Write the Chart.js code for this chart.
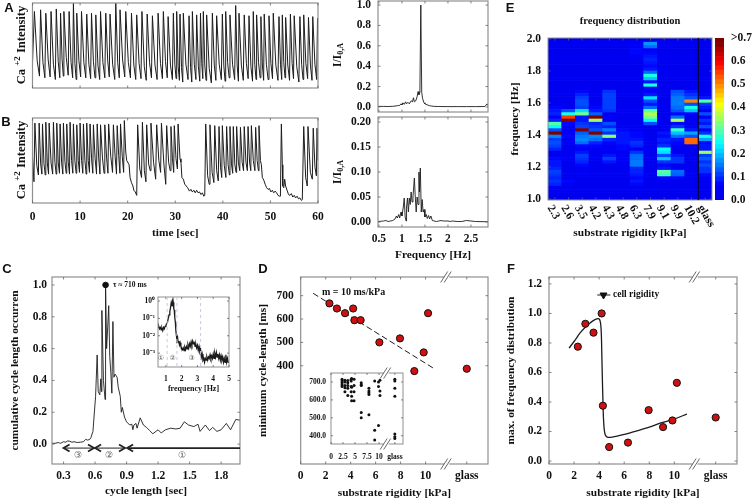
<!DOCTYPE html>
<html><head><meta charset="utf-8">
<style>html,body{margin:0;padding:0;background:#fff;width:752px;height:500px;overflow:hidden}canvas{position:absolute;left:0;top:0}</style>
<script src="https://cdn.jsdelivr.net/npm/chart.js@4"></script>
</head><body>
<script>
// ---------- panel A trace ----------
const aPeakTimes=[.4,1.7,2.8,3.9,5,5.9,6.6,7.7,8.6,9.3,10.3,11.4,12.4,13.3,14.3,15.4,16.3,17.5,18.4,19.6,20.8,21.9,23,24.1,25.2,26.4,27.5,28.5,29.6,30.3,31,31.7,32.9,33.6,34.5,35.3,35.9,36.6,37.8,38.7,39.9,40.6,41.5,42.7,43.4,44.5,45.5,46.4,47.1,48,48.7,49.7,50.6,51.8,52.5,53.2,54.2,55,56.2,57,58,58.9,59.9];
const aPeakV=[.9,.92,.88,.9,.93,.88,.9,.9,1,.88,.9,.87,.88,.86,.9,.88,.87,1,.92,.9,.88,.86,.9,.87,.85,.88,.9,.84,.88,.9,.87,.88,.85,.9,.86,.88,.9,.86,.88,.85,.87,.9,.86,.97,.88,.86,.85,.9,.86,.84,.87,.85,.88,.84,.86,.83,.87,.85,.84,.86,.83,.84,.82];
const aShoulderV=[.32,.3,.33,.28,.31,.34,.36,.3,.29,.32,.3,.28,.31,.27,.3,.32,.28,.3,.33,.3,.27,.29,.25,.3,.27,.29,.31,.27,.28,.25,.24,.28,.24,.28,.25,.29,.26,.23,.27,.28,.26,.3,.28,.26,.27,.29,.25,.28,.3,.27,.28,.29,.27,.28,.3,.27,.29,.25,.28,.29,.27,.28,.26];
const aTroughV=[.14,.12,.13,.1,.12,.14,.15,.12,.1,.13,.12,.11,.12,.1,.12,.13,.1,.12,.13,.12,.1,.11,.09,.12,.1,.11,.12,.1,.11,.09,.07,.1,.07,.1,.08,.11,.09,.06,.09,.1,.08,.12,.1,.08,.09,.11,.08,.1,.12,.09,.1,.11,.09,.1,.12,.09,.11,.07,.1,.11,.09,.1,.08];
// ---------- panel B trace ----------
const bPeakTimes=[.5,1.4,2.1,2.8,3.5,4.4,5.1,5.8,6.5,7.2,7.9,8.6,9.3,10,10.7,11.4,12.1,12.8,13.6,14.3,15.2,16,17,17.8,18.5,19.3,22.1,23.1,24,24.9,26.1,27.1,28.2,29.1,29.8,30.6,36.4,37.3,38.3,39.2,39.9,40.8,41.5,42.2,42.9,43.7,44.5,45.3,46,46.9,47.6,52.3,57,57.9,59,59.8];
const bPeakV=[.94,.94,.93,.95,.94,.95,.94,.93,.94,.93,.95,.93,.92,.94,.93,.94,.93,.92,.93,.92,.92,.93,.92,.91,.93,.97,.92,.95,.92,.94,.92,.94,.91,.9,.91,.93,.93,.92,.91,.9,.91,.9,.9,.9,.9,.89,.9,.9,.91,.89,.91,.93,.9,.9,.88,.88];
const bShoulderV=[.44,.46,.46,.47,.47,.48,.47,.48,.49,.48,.5,.49,.5,.5,.5,.5,.52,.52,.53,.53,.54,.55,.55,.56,.55,.5,.4,.38,.46,.48,.5,.47,.48,.52,.52,.52,.32,.36,.38,.42,.44,.45,.46,.46,.48,.48,.48,.48,.5,.5,.5,.5,.3,.36,.42,.44];
const bTroughV=[.33,.34,.33,.34,.34,.34,.35,.34,.35,.34,.35,.35,.36,.35,.34,.36,.35,.34,.34,.35,.35,.36,.34,.35,.36,.3,.3,.25,.38,.28,.36,.22,.38,.36,.4,.4,.22,.24,.26,.3,.3,.33,.35,.36,.38,.38,.38,.38,.38,.38,.4,.2,.2,.28,.32,.36];
const bQuiet=[[0,.55],[.3,.25],[19.6,.6],[19.8,.5],[20.3,.45],[20.5,.3],[20.8,.24],[21.1,.2],[21.3,.15],[21.6,.13],[21.9,.09],[31,.52],[31.2,.48],[31.4,.3],[31.7,.28],[32,.22],[32.3,.2],[32.6,.18],[33,.14],[33.3,.16],[33.6,.13],[33.9,.15],[34.2,.12],[34.5,.15],[34.8,.12],[35.1,.13],[35.4,.1],[35.7,.12],[36,.08],[36.2,.09],[47.9,.5],[48.1,.45],[48.3,.3],[48.6,.27],[48.9,.22],[49.2,.18],[49.5,.16],[49.8,.17],[50.1,.13],[50.4,.15],[50.7,.12],[51,.14],[51.3,.12],[51.6,.09],[51.9,.08],[52.1,.08],[52.5,.45],[52.6,.2],[52.8,.18],[53,.28],[53.2,.2],[53.5,.15],[53.8,.1],[54.1,.09],[54.4,.11],[54.7,.07],[55,.09],[55.3,.06],[55.6,.08],[55.9,.05],[56.2,.06],[56.5,.03],[56.7,.04],[60,.5]];
// ---------- spectra ----------
const specAF=[.48,.6,.7,.8,.85,.9,.95,.98,1,1.02,1.05,1.08,1.1,1.13,1.16,1.2,1.23,1.25,1.27,1.3,1.33,1.35,1.37,1.39,1.41,1.43,1.45,1.48,1.5,1.55,1.6,1.65,1.7,1.8,2,2.2,2.4,2.6,2.8,2.85,2.87];
const specAV=[.005,.005,.004,.006,.008,.012,.015,.03,.02,.04,.025,.05,.03,.045,.03,.06,.05,.09,.05,.06,.1,.15,.12,.14,1,.14,.08,.04,.03,.02,.012,.008,.005,.004,.003,.003,.003,.003,.004,.03,.012];
const specBF=[.48,.55,.6,.65,.7,.75,.8,.85,.88,.9,.93,.95,.98,1,1.03,1.05,1.07,1.09,1.1,1.12,1.14,1.16,1.18,1.2,1.22,1.24,1.27,1.29,1.31,1.33,1.35,1.37,1.38,1.4,1.42,1.44,1.46,1.48,1.5,1.53,1.55,1.58,1.6,1.63,1.66,1.7,1.75,1.8,1.85,1.9,2,2.05,2.1,2.2,2.3,2.4,2.5,2.6,2.87];
const specBV=[.001,.0015,.002,.003,.001,.002,.003,.006,.012,.008,.015,.008,.02,.012,.03,.048,.01,.002,.03,.048,.02,.048,.035,.06,.04,.05,.088,.05,.02,.05,.035,.1,.06,.108,.02,.045,.02,.025,.01,.015,.007,.013,.006,.012,.003,.002,.001,.002,.003,.002,.002,.001,.002,.001,.001,.003,.002,.001,.0005];
// ---------- panel C ----------
const cycleX=[.19,.22,.25,.27,.3,.32,.34,.36,.38,.4,.43,.46,.49,.51,.53,.55,.56,.58,.59,.605,.62,.63,.645,.655,.66,.665,.68,.695,.7,.71,.72,.73,.74,.75,.76,.77,.78,.79,.81,.82,.84,.85,.86,.88,.9,.93,.95,.96,.97,.99,1,1.03,1.06,1.09,1.12,1.15,1.18,1.2,1.23,1.27,1.32,1.37,1.41,1.45,1.49,1.54,1.58,1.6,1.65,1.69,1.72,1.76,1.8,1.85,1.89,1.94,1.98];
const cycleY=[.005,.005,.01,.005,.015,.012,.02,.018,.012,.015,.01,.012,.015,.03,.025,.03,.04,.08,.17,.3,.56,.33,.31,.41,.33,.84,.4,.28,1,.6,.73,.87,.55,.45,.32,.77,.42,.44,.42,.36,.3,.2,.23,.17,.14,.12,.125,.09,.12,.13,.1,.165,.12,.105,.085,.065,.08,.09,.07,.09,.1,.095,.1,.14,.12,.11,.125,.08,.12,.085,.105,.08,.09,.13,.09,.155,.15];
const tauX=[.7], tauY=[1];
const regionEdges=[[.3,.59],[.6,.885],[.905,1.98]];
const insetF=[.5,.55,.6,.65,.7,.75,.8,.85,.9,.95,1,1.05,1.1,1.15,1.2,1.25,1.3,1.33,1.36,1.4,1.43,1.46,1.5,1.53,1.56,1.6,1.63,1.66,1.7,1.74,1.78,1.82,1.86,1.9,1.95,2,2.05,2.1,2.15,2.2,2.25,2.3,2.35,2.4,2.45,2.5,2.55,2.6,2.65,2.7,2.75,2.8,2.85,2.9,2.95,3,3.05,3.1,3.15,3.2,3.25,3.3,3.35,3.4,3.45,3.5,3.55,3.6,3.65,3.7,3.75,3.8,3.85,3.9,3.95,4,4.05,4.1,4.15,4.2,4.25,4.3,4.35,4.4,4.45,4.5,4.55,4.6,4.65,4.7,4.75,4.8,4.85,4.9,4.95,5];
const insetV=[.03,.035,.025,.03,.022,.028,.02,.03,.025,.035,.04,.05,.06,.1,.16,.25,.45,.7,.5,.9,.5,.85,.35,.3,.12,.06,.02,.012,.006,.008,.004,.005,.003,.004,.0025,.002,.0016,.002,.0014,.0022,.0016,.0024,.0018,.003,.002,.0035,.0025,.0045,.003,.005,.0035,.004,.0025,.0032,.002,.0028,.0015,.0024,.0012,.0016,.0006,.0009,.0004,.0005,.0003,.0005,.0004,.0006,.0004,.0006,.0005,.0008,.0005,.0007,.0005,.0009,.0005,.001,.0006,.0011,.0006,.0009,.0005,.0008,.0004,.0007,.0004,.0006,.0003,.0005,.0003,.0008,.0003,.0005,.0003,.0003];
const insetMarks=[1.08,1.7,3.2];
// ---------- panels D / F ----------
const rigidity=[2.3,2.9,3.55,4.2,4.3,4.8,6.3,7.95,9.1,9.85,10.2,13.3];
const minCycle=[667,645,625,645,595,595,500,517,377,457,625,387];
const maxFreq=[.775,.93,.87,1,.375,.095,.125,.345,.23,.275,.53,.295];
const fitX=[1,10.7], fitY=[710,387];
const curveX=[1.6,2,2.5,3,3.5,3.9,4.03,4.12,4.18,4.22,4.26,4.3,4.34,4.4,4.48,4.6,4.8,5.5,6,7,8,9,10,11];
const curveY=[.765,.81,.87,.915,.95,.965,.96,.93,.85,.7,.55,.42,.3,.22,.18,.165,.16,.17,.18,.205,.23,.26,.285,.318];
const cellX=[3.85,4.9], cellY=[1.125,1.125], cellMarkX=[4.35], cellMarkY=[1.125];
const allX=[2.3,2.3,2.3,2.3,2.3,2.9,2.9,2.9,2.9,2.9,3.5,3.5,3.5,3.5,3.5,4.2,4.2,4.2,4.2,4.3,4.3,4.3,4.3,4.8,4.8,4.8,4.8,6.3,6.3,6.3,6.3,6.3,7.9,7.9,7.9,7.9,7.9,9.1,9.1,9.1,9.9,9.9,9.9,10.2,10.2,10.2,13.3,13.3,13.3,13.3,13.3,13.3,13.3];
const allY=[715,705,695,685,675,710,700,680,668,645,708,695,680,665,625,715,705,675,645,720,670,620,595,715,680,645,595,695,685,680,530,500,665,650,640,630,517,705,430,377,700,675,457,710,650,625,715,705,665,620,410,395,385];
// ---------- panel E ----------
const heatCats=['2.3','2.6','3.5','4.2','4.3','4.8','6.3','7.9','9.1','9.9','10.2','glass'];
const heat2_3=[4,3,4,6,9,10,9,10,11,9,8,8,7,5,5,9,11,12,11,16,70,12,24,30,9,6,9,8,7,4,4,3,3,3,2,2,2,3,2,2,2,2,2,2,2,2,1,1,1,1];
const heat2_6=[4,3,5,4,6,7,4,4,5,4,5,5,6,5,4,4,5,6,5,7,6,6,6,7,70,55,26,12,5,4,3,4,3,3,2,2,2,2,2,2,1,2,1,2,1,1,1,1,1,1];
const heat3_5=[3,3,4,5,3,5,4,6,6,5,7,9,10,11,8,6,7,14,16,15,13,70,11,10,8,8,32,22,11,12,12,11,9,7,4,3,3,2,2,2,2,2,2,2,1,1,1,1,1,1];
const heat4_2=[2,3,3,3,4,3,2,3,2,3,4,4,4,3,5,6,7,9,14,16,70,12,10,9,35,70,13,8,7,6,5,4,3,3,2,2,2,2,2,2,2,2,2,2,1,1,1,1,1,1];
const heat4_3=[4,4,3,3,3,2,3,3,4,3,5,8,11,8,5,6,6,7,9,34,10,15,9,12,6,6,5,10,11,11,11,11,11,10,5,3,2,2,2,2,2,2,2,2,2,1,1,1,1,1];
const heat4_8=[2,3,3,4,5,4,4,5,5,5,6,6,6,6,5,7,7,8,8,8,8,7,5,5,4,5,6,5,5,4,4,4,3,3,3,3,2,2,2,2,2,2,2,2,2,2,1,1,1,1];
const heat6_3=[3,4,4,5,7,8,7,8,9,9,15,15,14,14,10,6,9,10,8,7,7,6,5,5,5,5,4,5,4,4,4,4,5,4,4,3,3,3,4,4,5,4,4,5,6,7,7,6,6,5];
const heat7_9=[4,4,3,3,4,3,3,2,2,3,3,3,3,3,3,3,3,2,2,3,3,3,4,12,24,33,36,30,14,8,12,22,8,6,7,26,8,20,26,14,8,7,8,9,8,7,6,14,17,5];
const heat9_1=[3,4,4,5,5,6,7,28,30,8,7,10,20,12,22,24,10,8,9,7,8,5,4,4,3,3,3,3,3,3,3,3,2,2,2,2,2,2,2,2,2,2,2,2,1,1,1,1,1,1];
const heat9_9=[2,3,3,4,4,5,7,13,14,6,5,10,10,8,4,5,6,7,8,14,20,28,10,7,36,14,7,12,14,15,15,15,13,12,4,3,3,2,2,2,2,2,2,2,1,1,1,1,1,1];
const heat10_2=[2,2,3,3,3,3,3,3,3,3,4,3,3,3,4,3,4,52,52,12,18,8,6,5,5,5,7,20,26,12,50,12,10,8,5,3,3,2,2,2,2,2,2,2,1,1,1,1,1,1];
const heatGlass=[2,3,4,4,6,5,6,7,10,10,12,10,13,11,35,8,8,7,18,26,10,6,12,8,10,6,12,5,8,10,30,8,6,4,3,3,3,3,3,2,2,2,2,2,1,1,1,1,1,1];
const heatColumns=[heat2_3,heat2_6,heat3_5,heat4_2,heat4_3,heat4_8,heat6_3,heat7_9,heat9_1,heat9_9,heat10_2,heatGlass];
const colorTicks=[0,.1,.2,.3,.4,.5,.6,.7];
const rigTicks=[0,2,4,6,8,10,13.3], rigLabels=['0','2','4','6','8','10','glass'];

// ---------- helpers ----------
const SERIF='"Liberation Serif", serif';
const INK='#111';
const serif=(s)=>({family:SERIF,size:s,weight:'bold'});
function T(ctx,text,x,y,o={}){ctx.save();ctx.font=o.font||`bold ${o.size||11}px ${SERIF}`;ctx.fillStyle=o.color||INK;ctx.textAlign=o.align||'left';ctx.textBaseline=o.base||'middle';ctx.translate(x,y);if(o.rot)ctx.rotate(o.rot);ctx.fillText(text,0,0);ctx.restore();}
function rich(ctx,x,y,runs){ctx.save();ctx.translate(x,y);ctx.rotate(-Math.PI/2);ctx.fillStyle=INK;ctx.textBaseline='middle';ctx.textAlign='left';let w=0;runs.forEach(r=>{ctx.font=`bold ${r[1]}px ${SERIF}`;w+=ctx.measureText(r[0]).width});let p=-w/2;runs.forEach(r=>{ctx.font=`bold ${r[1]}px ${SERIF}`;ctx.fillText(r[0],p,r[2]);p+=ctx.measureText(r[0]).width});ctx.restore();}
const letter=(ctx,t,x,y)=>T(ctx,t,x,y,{font:'bold 13px "Liberation Sans", sans-serif',align:'center'});
const xy=(xs,ys)=>xs.map((x,i)=>({x,y:ys[i]}));
function saw(times,peaks,shoulders,troughs){const out=[];times.forEach((t,i)=>{out.push({x:t,y:peaks[i]});const g=(times[i+1]||t+.8)-t;if(g<1.6){out.push({x:t+.45*g,y:shoulders[i]});out.push({x:t+.82*g,y:troughs[i]});}});return out;}

const framePlugin={id:'frame',
 beforeDatasetsDraw(c){const o=c.options.plugins.frame;if(o&&o.bg){const a=c.chartArea,x=c.ctx;x.save();x.fillStyle=o.bg;x.fillRect(a.left,a.top,a.right-a.left,a.bottom-a.top);x.restore();}},
 afterDatasetsDraw(c){const o=c.options.plugins.frame;if(!o)return;const a=c.chartArea,x=c.ctx;x.save();
  if(o.box!==false){x.strokeStyle='#8f8f8f';x.lineWidth=o.lw||1.2;x.strokeRect(a.left,a.top,a.right-a.left,a.bottom-a.top);
  x.strokeStyle='#666';x.lineWidth=.8;const L=o.tick||2.5;
  c.scales.x.ticks.forEach((t,i)=>{const p=c.scales.x.getPixelForTick(i);x.beginPath();x.moveTo(p,a.bottom);x.lineTo(p,a.bottom-L);x.moveTo(p,a.top);x.lineTo(p,a.top+L);x.stroke();});
  c.scales.y.ticks.forEach((t,i)=>{const p=c.scales.y.getPixelForTick(i);x.beginPath();x.moveTo(a.left,p);x.lineTo(a.left+L,p);x.moveTo(a.right,p);x.lineTo(a.right-L,p);x.stroke();});}
  if(o.breakX!==undefined){const p=c.scales.x.getPixelForValue(o.breakX);[a.top,a.bottom].forEach(y=>{x.fillStyle='#fff';x.fillRect(p-3,y-2,5,4);x.strokeStyle='#444';x.lineWidth=.8;[-3.5,0].forEach(d=>{x.beginPath();x.moveTo(p+d-3,y+5.5);x.lineTo(p+d+4,y-5.5);x.stroke();});});}
  x.restore();}};

function panel(cfg){
 const [l,t,r,b]=cfg.box, size=cfg.font||11.5, tsize=cfg.titleFont||11.4, ysize=cfg.yTitleFont||tsize, lh=tsize*1.2, ylh=ysize*1.2;
 const cv=document.createElement('canvas');cv.width=752;cv.height=500;cv.style.width='752px';cv.style.height='500px';document.body.appendChild(cv);
 const right=!!cfg.y.right, labelled=!!cfg.y.labels;
 const yLeft=right?l:(cfg.yTitle?cfg.yTitleX-ylh/2:(labelled?l-40:l)), yW=right?28:l-yLeft;
 const xH=cfg.xTitle?cfg.xTitleY+lh/2-b:(cfg.x.labels?26:0);
 const zero=s=>{s.paddingLeft=s.paddingRight=s.paddingTop=s.paddingBottom=0;};
 const axis=(ax,isX)=>{const c={type:ax.type||'linear',position:isX?'bottom':(ax.right?'right':'left'),offset:ax.type==='category',
   grid:{display:false,drawTicks:false},border:{display:false},
   ticks:{display:!!ax.labels,autoSkip:false,maxRotation:0,minRotation:0,color:INK,font:serif(ax.font||size),padding:ax.pad===undefined?7:ax.pad,
     callback:(v,i)=>ax.labels?ax.labels[i]:''},
   afterFit:isX?(s=>{s.height=xH;zero(s);}):(s=>{s.width=yW;zero(s);})};
  if(ax.type==='category')c.labels=ax.cats; else {c.min=ax.min;c.max=ax.max;c.afterBuildTicks=s=>{s.ticks=ax.ticks.map(v=>({value:v}));};}
  const title=isX?cfg.xTitle:cfg.yTitle;
  if(title)c.title={display:true,text:title,color:INK,font:serif(isX?tsize:ysize),padding:0};
  return c;};
 const fr=Object.assign({},cfg.frame), deco=fr.deco; delete fr.deco;
 const pl=[framePlugin];
 if(deco)pl.push({id:'deco',afterDraw(c){deco(c,c.ctx);}});
 return new Chart(cv,{type:cfg.type||'scatter',data:{labels:cfg.cats,datasets:cfg.datasets},plugins:pl,options:{
  responsive:false,animation:false,devicePixelRatio:1,events:[],
  layout:{padding:{left:yLeft,top:t,right:right?752-r-28:752-r,bottom:500-(b+xH)}},
  plugins:{legend:{display:false},tooltip:{enabled:false},title:{display:false},frame:fr},
  scales:{x:axis(cfg.x,true),y:axis(cfg.y,false)}}});
}
const line=(data,o={})=>Object.assign({data,showLine:true,pointRadius:0,borderColor:'#1c1c1c',backgroundColor:'#1c1c1c',borderWidth:.9,tension:0},o);
const dots=(data,o={})=>Object.assign({data,showLine:false,pointRadius:3.6,pointBackgroundColor:'#cf1010',pointBorderColor:'#111',pointBorderWidth:1},o);

const timeTicks=[0,10,20,30,40,50,60], timeLabels=['0','10','20','30','40','50','60'];
// ---------- A ----------
panel({box:[32.5,3,318,88],datasets:[line([{x:0,y:.3}].concat(saw(aPeakTimes,aPeakV,aShoulderV,aTroughV)),{borderWidth:1})],
 x:{min:0,max:60,ticks:timeTicks},y:{min:0,max:1,ticks:[]},
 frame:{deco(c,x){letter(x,'A',9,8);rich(x,22,45,[['Ca ',12.5,0],['+2',9,-4],[' Intensity',12.5,0]]);}}});
// ---------- B ----------
const bPts=saw(bPeakTimes,bPeakV,bShoulderV,bTroughV).concat(xy(bQuiet.map(p=>p[0]),bQuiet.map(p=>p[1]))).sort((p,q)=>p.x-q.x);
panel({box:[32.5,118,318,203],datasets:[line(bPts,{borderWidth:1})],xTitle:'time [sec]',xTitleY:233,
 x:{min:0,max:60,ticks:timeTicks,labels:timeLabels},y:{min:0,max:1,ticks:[]},
 frame:{deco(c,x){letter(x,'B',6,122);rich(x,22,160,[['Ca ',12.5,0],['+2',9,-4],[' Intensity',12.5,0]]);}}});
// ---------- spectra ----------
const fTicks=[.5,1,1.5,2,2.5];
panel({box:[378,1,488,112],datasets:[line(xy(specAF,specAV))],
 x:{min:.48,max:2.87,ticks:fTicks},y:{min:-.05,max:1.04,ticks:[0,.2,.4,.6,.8,1],labels:['0.0','0.2','0.4','0.6','0.8','1.0']},
 frame:{deco(c,x){rich(x,338,55,[['I/I',11.5,0],['0,A',8,3]]);}}});
panel({box:[378,117,488,227],datasets:[line(xy(specBF,specBV))],xTitle:'Frequency [Hz]',xTitleY:255,
 x:{min:.48,max:2.87,ticks:fTicks,labels:['0.5','1','1.5','2','2.5'],pad:5},y:{min:-.01,max:.21,ticks:[0,.05,.1,.15,.2],labels:['0.00','0.05','0.10','0.15','0.20']},
 frame:{deco(c,x){rich(x,338,172,[['I/I',11.5,0],['0,A',8,3]]);}}});
// ---------- E heat map ----------
function jet(v){const t=Math.max(.11,Math.min(1,v/.7+.03)),f=k=>Math.round(255*Math.max(0,Math.min(1,1.5-Math.abs(4*t-k))));return `rgb(${f(3)},${f(2)},${f(1)})`;}
const heatRows=[];for(let i=0;i<50;i++){const lo=i===0?.99:1+i*.02,hi=i===49?2.01:1+(i+1)*.02;
 heatRows.push({data:heatColumns.map(()=>[lo,hi]),backgroundColor:heatColumns.map(c=>jet(c[i]/100)),grouped:false,barPercentage:1,categoryPercentage:1,borderWidth:0});}
panel({type:'bar',box:[548,38,712,200],cats:heatCats,datasets:heatRows,xTitle:'substrate rigidity [kPa]',xTitleY:233,yTitle:'frequency [Hz]',yTitleX:515,
 x:{type:'category',cats:heatCats},y:{min:.994,max:2.006,ticks:[1,1.2,1.4,1.6,1.8,2],labels:['1.0','1.2','1.4','1.6','1.8','2.0']},
 frame:{lw:1,deco(c,x){letter(x,'E',510,8);T(x,'frequency distribution',630,21,{size:10.5,align:'center'});
  const s=c.scales.x,a=c.chartArea;heatCats.forEach((n,i)=>T(x,n,s.getPixelForTick(i)-5,206,{size:11.5,rot:Math.PI/3}));
  const p=(s.getPixelForTick(10)+s.getPixelForTick(11))/2;x.save();x.strokeStyle='#0a0a3c';x.lineWidth=1.3;x.beginPath();x.moveTo(p,a.top);x.lineTo(p,a.bottom);x.stroke();x.restore();}}});
// colour bar
const barRows=[];for(let i=0;i<36;i++){const lo=i*.02;barRows.push({data:[[lo,lo+.02]],backgroundColor:jet(lo+.01),grouped:false,barPercentage:1,categoryPercentage:1,borderWidth:0});}
panel({type:'bar',box:[715,38,724,200],cats:[''],datasets:barRows,
 x:{type:'category',cats:['']},y:{right:true,min:0,max:.7,ticks:colorTicks,labels:['0.0','0.1','0.2','0.3','0.4','0.5','0.6','>0.7']},frame:{box:false}});
// ---------- C ----------
panel({box:[52,277,240,464],datasets:[dots(xy(tauX,tauY),{pointBackgroundColor:'#111',pointRadius:2.8}),line(xy(cycleX,cycleY),{borderWidth:.9})],
 xTitle:'cycle length [sec]',xTitleY:491,yTitle:'cumulative cycle length occurren',yTitleX:15,
 x:{min:.19,max:1.98,ticks:[.3,.6,.9,1.2,1.5,1.8],labels:['0.3','0.6','0.9','1.2','1.5','1.8'],pad:5},
 y:{min:-.125,max:1.05,ticks:[0,.2,.4,.6,.8,1],labels:['0.0','0.2','0.4','0.6','0.8','1.0'],pad:5},
 frame:{deco(c,x){letter(x,'C',7,269);T(x,'τ ≈ 710 ms',113,285,{size:7.5});
  const sx=c.scales.x,y=c.scales.y.getPixelForValue(-.025);x.save();x.strokeStyle='#222';x.fillStyle='#000';
  regionEdges.forEach((e,i)=>{const p=sx.getPixelForValue(e[0]),q=sx.getPixelForValue(e[1]);x.lineWidth=i===2?1.6:1;x.beginPath();x.moveTo(p,y);x.lineTo(q,y);x.stroke();
   x.lineWidth=1.8;x.beginPath();x.moveTo(p+6,y-3.5);x.lineTo(p,y);x.lineTo(p+6,y+3.5);x.stroke();
   if(i<2){x.beginPath();x.moveTo(q-6,y-3.5);x.lineTo(q,y);x.lineTo(q-6,y+3.5);x.stroke();}});x.restore();
  const cf={font:'9px "DejaVu Sans", sans-serif',align:'center',color:'#555'};
  T(x,'③',78,456,cf);T(x,'②',109,456,cf);T(x,'①',182,456,cf);}}});
panel({box:[158,297,229,367],titleFont:8,font:7.5,xTitle:'frequency [Hz]',xTitleY:389,
 datasets:[line(xy(insetF,insetV),{borderWidth:1.3})],
 x:{min:.5,max:5,ticks:[1,2,3,4,5],labels:['1','2','3','4','5'],pad:8},
 y:{type:'logarithmic',min:.00016,max:1.7,ticks:[1,.1,.01,.001],labels:['10⁰','10⁻¹','10⁻²','10⁻³'],pad:3},
 frame:{bg:'#fff',lw:1,tick:2,deco(c,x){const s=c.scales.x,a=c.chartArea;x.save();x.strokeStyle='#c9c9e8';x.setLineDash([3,3]);x.lineWidth=1;insetMarks.forEach(m=>{const p=s.getPixelForValue(m);x.beginPath();x.moveTo(p,a.top);x.lineTo(p,a.bottom);x.stroke();});x.restore();
  const cf={font:'7px "DejaVu Sans", sans-serif',align:'center',color:'#555'};T(x,'①',161,358,cf);T(x,'②',172.7,358,cf);T(x,'③',191.7,358,cf);}}});
// ---------- D ----------
panel({box:[300.7,277,488,464],datasets:[dots(xy(rigidity,minCycle)),line(xy(fitX,fitY),{borderDash:[6,3],borderWidth:1})],
 xTitle:'substrate rigidity [kPa]',xTitleY:493,yTitle:'minimum cycle-length [ms]',yTitleX:263,
 x:{min:0,max:15,ticks:rigTicks,labels:rigLabels,pad:5},y:{min:-21,max:780,ticks:[400,500,600,700],labels:['400','500','600','700']},
 frame:{breakX:11.73,deco(c,x){letter(x,'D',263,269);T(x,'m = 10 ms/kPa',322,292,{size:10});}}});
panel({box:[331,373,403,444],font:7.5,datasets:[dots(xy(allX,allY),{pointRadius:1.5,pointBackgroundColor:'#111',pointBorderWidth:0})],
 x:{min:0,max:15,ticks:[0,2.5,5,7.5,10,13.3],labels:['0','2.5','5','7.5','10','glass'],pad:9},
 y:{min:354,max:750,ticks:[400,500,600,700],labels:['400.0','500.0','600.0','700.0'],pad:5},
 frame:{bg:'#fff',lw:1,tick:2,breakX:11.6}});
// ---------- F ----------
panel({box:[549,277,737,464],
 datasets:[dots(xy(rigidity,maxFreq)),
  dots(xy(cellMarkX,cellMarkY),{pointStyle:'triangle',rotation:180,pointRadius:4,pointBackgroundColor:'#111'}),
  line(xy(cellX,cellY),{borderWidth:1}),
  line(xy(curveX,curveY),{borderWidth:1.3,tension:.25})],
 xTitle:'substrate rigidity [kPa]',xTitleY:493,yTitle:'max. of frequency distribution',yTitleX:511,
 x:{min:0,max:15,ticks:rigTicks,labels:rigLabels,pad:5},y:{min:-.02,max:1.247,ticks:[0,.2,.4,.6,.8,1,1.2],labels:['0.0','0.2','0.4','0.6','0.8','1.0','1.2']},
 frame:{breakX:11.7,deco(c,x){letter(x,'F',511,269);T(x,'cell rigidity',613,295,{size:9.5});}}});
</script>
</body></html>
